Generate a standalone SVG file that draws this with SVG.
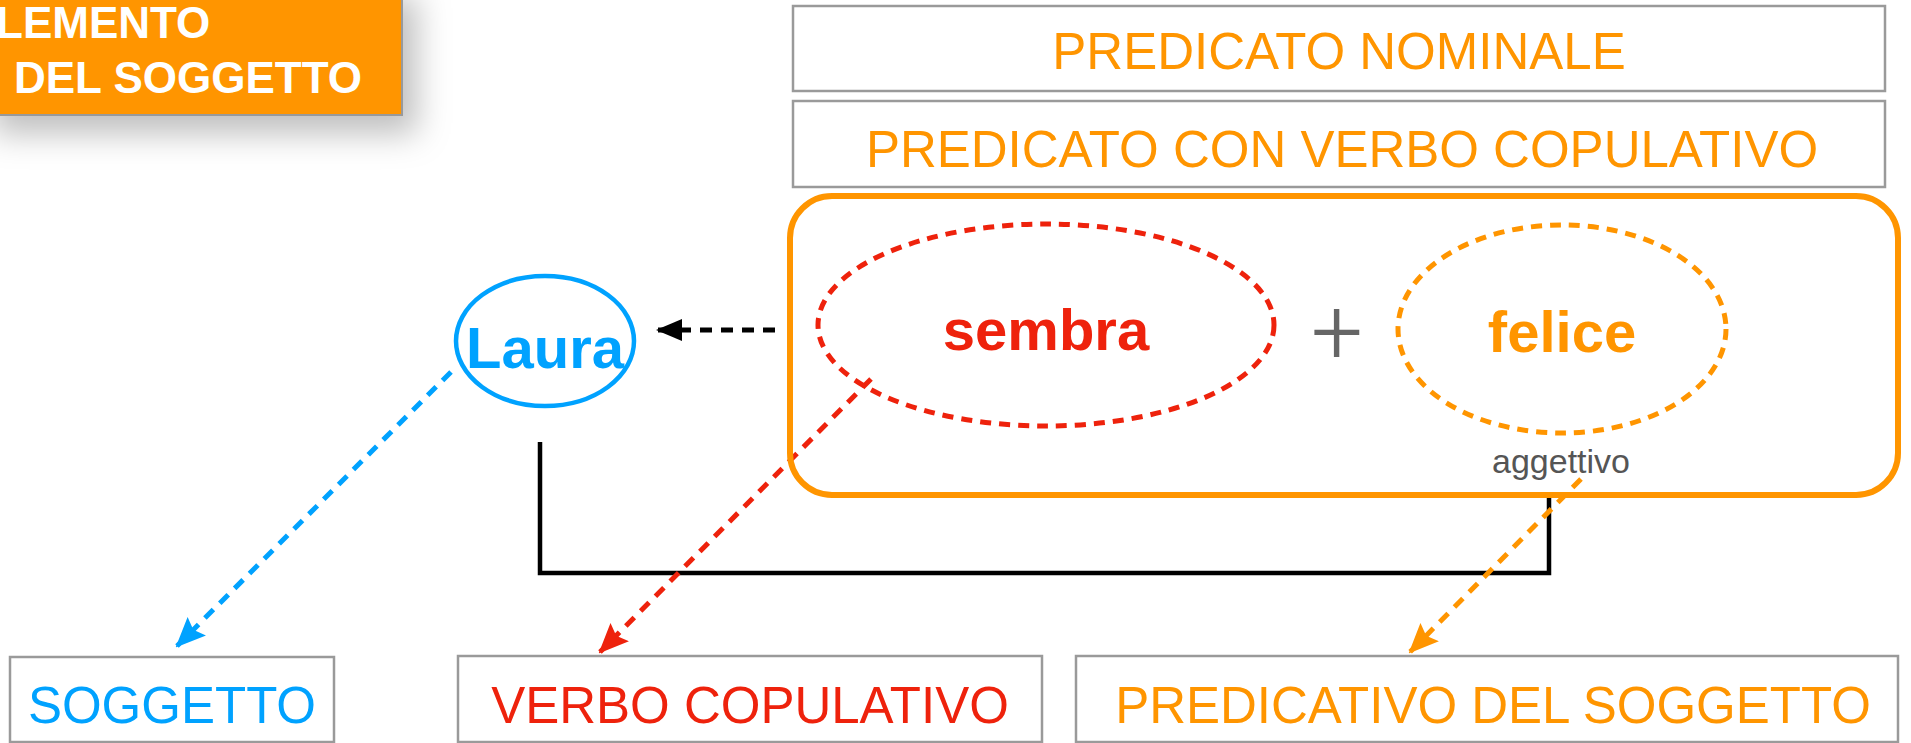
<svg xmlns="http://www.w3.org/2000/svg" width="1911" height="743" viewBox="0 0 1911 743">
<style>
  text { font-family: "Liberation Sans", Arial, sans-serif; }
  .box { fill: #ffffff; stroke: #9a9a9a; stroke-width: 2.5; }
  .lbl { font-size: 51px; text-anchor: middle; }
  .word { font-size: 58px; font-weight: bold; text-anchor: middle; }
  .orange { fill: #FF9500; }
  .red { fill: #EE220C; }
  .blue { fill: #00A2FF; }
  .dash { fill: none; stroke-width: 5; stroke-dasharray: 11 8; }
  .conn { fill: none; stroke-width: 5; stroke-dasharray: 12 9; }
</style>
<defs>
  <filter id="shadow" x="-20%" y="-20%" width="170%" height="200%">
    <feDropShadow dx="14" dy="18" stdDeviation="16" flood-color="#000" flood-opacity="0.25"/>
  </filter>
  <marker id="arrBlack" markerWidth="26" markerHeight="22" refX="24" refY="11" orient="auto" markerUnits="userSpaceOnUse">
    <path d="M0,0 L26,11 L0,22 Z" fill="#000"/>
  </marker>
  <marker id="arrBlue" markerWidth="30" markerHeight="26" refX="28" refY="13" orient="auto" markerUnits="userSpaceOnUse">
    <path d="M0,0 L30,13 L0,26 L5,13 Z" fill="#00A2FF"/>
  </marker>
  <marker id="arrRed" markerWidth="30" markerHeight="26" refX="28" refY="13" orient="auto" markerUnits="userSpaceOnUse">
    <path d="M0,0 L30,13 L0,26 L5,13 Z" fill="#EE220C"/>
  </marker>
  <marker id="arrOrange" markerWidth="30" markerHeight="26" refX="28" refY="13" orient="auto" markerUnits="userSpaceOnUse">
    <path d="M0,0 L30,13 L0,26 L5,13 Z" fill="#FF9500"/>
  </marker>
</defs>

<g id="title">
  <rect x="-20" y="-20" width="422" height="135" fill="#FF9500" stroke="#999" stroke-width="2" filter="url(#shadow)"/>
  <text x="-4" y="38" font-size="44" font-weight="bold" fill="#fff">LEMENTO</text>
  <text x="14" y="93" font-size="44" font-weight="bold" fill="#fff">DEL SOGGETTO</text>
</g>

<g id="predicato-nominale">
  <rect class="box" x="793" y="6" width="1092" height="85"/>
  <text class="lbl orange" x="1339" y="69">PREDICATO NOMINALE</text>
</g>

<g id="predicato-copulativo">
  <rect class="box" x="793" y="101" width="1092" height="86"/>
  <text class="lbl orange" x="1342" y="167">PREDICATO CON VERBO COPULATIVO</text>
</g>

<g id="connectors">
  <path d="M540,442 V573 H1549 V495" fill="none" stroke="#000" stroke-width="4.5"/>
  <line class="conn" x1="775" y1="330" x2="658" y2="330" stroke="#000" stroke-width="6" marker-end="url(#arrBlack)"/>
  <line class="conn" x1="451" y1="372" x2="177" y2="646" stroke="#00A2FF" marker-end="url(#arrBlue)"/>
  <line class="conn" x1="871" y1="379" x2="600" y2="652" stroke="#EE220C" marker-end="url(#arrRed)"/>
  <line class="conn" x1="1581" y1="479" x2="1410" y2="652" stroke="#FF9500" marker-end="url(#arrOrange)"/>
</g>

<g id="predicato-group">
  <rect x="790" y="196" width="1108" height="299" rx="42" ry="42" fill="none" stroke="#FF9500" stroke-width="6"/>
</g>

<g id="sembra">
  <ellipse class="dash" cx="1046" cy="325" rx="228" ry="101" stroke="#EE220C"/>
  <text class="word red" x="1046" y="350">sembra</text>
</g>

<g id="plus">
  <text x="1337" y="364" font-size="92" text-anchor="middle" fill="#666" style="font-family: Roboto, 'Liberation Sans', sans-serif; font-weight: 300;">+</text>
</g>

<g id="felice">
  <ellipse class="dash" cx="1562" cy="329" rx="164" ry="104" stroke="#FF9500"/>
  <text class="word orange" x="1562" y="352">felice</text>
  <text x="1561" y="473" font-size="34" text-anchor="middle" fill="#555">aggettivo</text>
</g>

<g id="laura">
  <ellipse cx="545" cy="341" rx="89" ry="65" fill="none" stroke="#00A2FF" stroke-width="4.5"/>
  <text class="word blue" x="545" y="368" font-size="57">Laura</text>
</g>

<g id="soggetto">
  <rect class="box" x="10" y="657" width="324" height="85"/>
  <text class="lbl blue" x="172" y="723">SOGGETTO</text>
</g>

<g id="verbo-copulativo">
  <rect class="box" x="458" y="656" width="584" height="86"/>
  <text class="lbl red" x="750" y="723">VERBO COPULATIVO</text>
</g>

<g id="predicativo">
  <rect class="box" x="1076" y="656" width="822" height="86"/>
  <text class="lbl orange" x="1493" y="723">PREDICATIVO DEL SOGGETTO</text>
</g>
</svg>
